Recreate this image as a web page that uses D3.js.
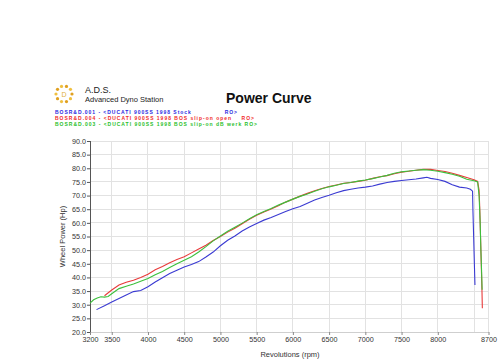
<!DOCTYPE html>
<html><head><meta charset="utf-8">
<script src="https://cdn.jsdelivr.net/npm/d3@7"></script>
<style>body{margin:0;background:#fff}svg{display:block}</style>
</head><body>
<svg id="c" width="500" height="364"></svg>
<script>
const xTicks=[3200,3500,4000,4500,5000,5500,6000,6500,7000,7500,8000,8700];
const xGrid=[3500,4000,4500,5000,5500,6000,6500,7000,7500,8000,8500,8700];
const yTicks=[20,25,30,35,40,45,50,55,60,65,70,75,80,85,90];
const legendLabels=["BOSR&D.001 - <DUCATI 900SS 1998 Stock              RO>","BOSR&D.004 - <DUCATI 900SS 1998 BOS slip-on open    RO>","BOSR&D.003 - <DUCATI 900SS 1998 BOS slip-on dB werk RO>"];
const stockRpm=[3290,3400,3500,3600,3700,3800,3900,4000,4100,4200,4300,4400,4500,4600,4700,4800,4900,5000,5100,5200,5300,5400,5500,5600,5700,5800,5900,6000,6100,6200,6300,6400,6500,6600,6700,6800,6900,7000,7100,7200,7300,7400,7500,7600,7700,7800,7850,7900,8000,8100,8200,8300,8400,8450,8480,8485,8495,8505,8513];
const stockHp=[28.2,29.6,31.0,32.3,33.6,34.8,35.2,36.6,38.3,39.9,41.4,42.6,43.8,44.7,45.8,47.5,49.3,51.6,53.6,55.2,57.0,58.5,59.8,61.0,62.0,63.1,64.2,65.2,66.0,67.2,68.4,69.3,70.1,71.0,71.8,72.3,72.8,73.1,73.5,74.2,74.8,75.2,75.5,75.8,76.1,76.5,76.7,76.3,75.9,75.2,74.0,73.1,72.8,72.3,71.6,64.7,55,45,37.2];
const openRpm=[3400,3500,3600,3700,3800,3900,4000,4100,4200,4300,4400,4500,4600,4700,4800,4900,5000,5100,5200,5300,5400,5500,5600,5700,5800,5900,6000,6100,6200,6300,6400,6500,6600,6700,6800,6900,7000,7100,7200,7300,7400,7500,7600,7700,7800,7900,8000,8100,8200,8300,8400,8500,8550,8570,8580,8590,8600,8610,8615];
const openHp=[33.3,35.4,37.2,38.2,39.0,40.0,41.2,42.8,44.0,45.4,46.6,47.6,49.0,50.4,51.8,53.5,55.0,56.6,58.0,59.7,61.3,62.8,64.0,65.1,66.3,67.6,68.7,69.8,70.8,71.8,72.6,73.3,73.9,74.5,74.8,75.2,75.6,76.3,76.9,77.3,78.0,78.6,78.9,79.3,79.6,79.6,79.2,78.8,78.2,77.4,76.6,75.8,75.2,72,65,55,45,35,28.7];
const werkRpm=[3200,3250,3300,3350,3400,3450,3500,3600,3700,3800,3900,4000,4100,4200,4300,4400,4500,4600,4700,4800,4900,5000,5100,5200,5300,5400,5500,5600,5700,5800,5900,6000,6100,6200,6300,6400,6500,6600,6700,6800,6900,7000,7100,7200,7300,7400,7500,7600,7700,7800,7900,8000,8100,8200,8300,8400,8500,8550,8570,8585,8595,8605,8612];
const werkHp=[30.6,31.8,32.5,32.9,32.8,33.0,34.0,35.9,36.8,37.6,38.6,39.6,41.0,42.2,43.6,45.0,46.3,47.6,49.3,51.3,53.4,55.2,56.9,58.4,59.9,61.5,63.0,64.2,65.3,66.5,67.6,68.7,69.7,70.6,71.6,72.5,73.2,73.8,74.4,74.8,75.3,75.7,76.2,76.8,77.4,78.2,78.7,79.0,79.3,79.5,79.3,78.9,78.4,77.8,77.1,76.0,75.4,75.0,70,60,50,42,35.5];

const svg=d3.select("#c");
const x=d3.scaleLinear().domain([3200,8700]).range([90,488.5]);
const y=d3.scaleLinear().domain([20,90]).range([332,141]);
const F="Liberation Sans, Arial, sans-serif";

// grid
svg.append("g").selectAll("line").data(yTicks).join("line")
 .attr("x1",x(3200)).attr("x2",x(8700)).attr("y1",d=>y(d)).attr("y2",d=>y(d))
 .attr("stroke",d=>d===20?"#cfcfcf":"#e2e2e2").attr("stroke-width",1).attr("shape-rendering","crispEdges");
svg.append("g").selectAll("line").data(xGrid).join("line")
 .attr("y1",y(90)).attr("y2",y(20)).attr("x1",d=>x(d)).attr("x2",d=>x(d))
 .attr("stroke","#e2e2e2").attr("stroke-width",1).attr("shape-rendering","crispEdges");
svg.append("line").attr("x1",x(3200)).attr("x2",x(3200)).attr("y1",y(90)).attr("y2",y(20)+3)
 .attr("stroke","#555").attr("shape-rendering","crispEdges");

// axes
const yAxis=d3.axisLeft(y).tickValues(yTicks).tickFormat(d3.format(".1f")).tickSize(3).tickPadding(1);
const gy=svg.append("g").attr("transform",`translate(${x(3200)},0)`).call(yAxis);
gy.select(".domain").remove();
gy.selectAll("text").attr("font-family",F).attr("font-size",7.2).attr("fill","#333");
gy.selectAll("line").attr("stroke","#555");
const xAxis=d3.axisBottom(x).tickValues(xTicks).tickFormat(d3.format("d")).tickSize(3).tickPadding(2);
const gx=svg.append("g").attr("transform",`translate(0,${y(20)})`).call(xAxis);
gx.select(".domain").remove();
gx.selectAll("text").attr("font-family",F).attr("font-size",7.2).attr("fill","#333");
gx.selectAll("line").attr("stroke","#888");

svg.append("text").attr("x",290).attr("y",357).attr("text-anchor","middle")
 .attr("font-family",F).attr("font-size",7.5).attr("fill","#333").text("Revolutions (rpm)");
svg.append("text").attr("transform",`translate(65,${(y(20)+y(90))/2}) rotate(-90)`).attr("text-anchor","middle")
 .attr("font-family",F).attr("font-size",7.5).attr("fill","#333").text("Wheel Power (Hp)");

// series
const series=[
 {rpm:stockRpm,hp:stockHp,c:"#3a3ad2"},
 {rpm:openRpm,hp:openHp,c:"#e83a3a"},
 {rpm:werkRpm,hp:werkHp,c:"#3cc03c"}];
const line=d3.line().x(d=>x(d[0])).y(d=>y(d[1]));
series.forEach(s=>{
 svg.append("path").datum(s.rpm.map((r,i)=>[r,s.hp[i]])).attr("d",line)
  .attr("fill","none").attr("stroke",s.c).attr("stroke-width",1.1);
});

// header
const logo=svg.append("g").attr("transform","translate(64,94)");
d3.range(10).forEach(i=>{
 const a=i/10*2*Math.PI;
 logo.append("circle").attr("cx",8*Math.cos(a)).attr("cy",8*Math.sin(a)).attr("r",1.6)
  .attr("fill",i%2?"#f0c040":"#e0a020");
});
logo.append("text").attr("x",0).attr("y",3).attr("text-anchor","middle").attr("font-family",F)
 .attr("font-size",7).attr("fill","#e0b040").text("D");
svg.append("text").attr("x",85).attr("y",93).attr("font-family",F).attr("font-size",9).attr("fill","#222").text("A.D.S.");
svg.append("text").attr("x",85).attr("y",102).attr("font-family",F).attr("font-size",7.5).attr("fill","#222").text("Advanced Dyno Station");
svg.append("text").attr("x",226).attr("y",103).attr("font-family",F).attr("font-weight","bold").attr("font-size",14).attr("fill","#111").text("Power Curve");
const legColors=["#2a2ae0","#f02a2a","#2ac02a"];
const legLens=[182,199,202];
svg.append("g").selectAll("text").data(legendLabels).join("text")
 .attr("x",55).attr("y",(d,i)=>114+i*5.8).attr("font-family",F).attr("font-weight","bold")
 .attr("font-size",5).attr("xml:space","preserve").style("white-space","pre")
 .attr("textLength",(d,i)=>legLens[i]).attr("lengthAdjust","spacing")
 .attr("fill",(d,i)=>legColors[i]).text(d=>d);
</script>
</body></html>
